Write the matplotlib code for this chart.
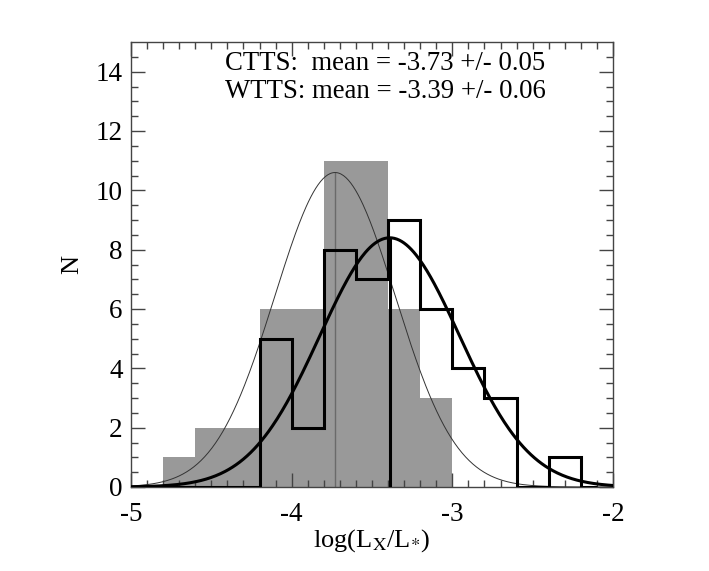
import numpy as np
import matplotlib
matplotlib.use("Agg")
import matplotlib.pyplot as plt

plt.rcParams['font.family'] = ['Liberation Serif', 'DejaVu Serif']
plt.rcParams['mathtext.fontset'] = 'stix'
plt.rcParams['axes.unicode_minus'] = False

# CTTS histogram (grey filled), bin edges and counts
ctts_edges = [-4.8, -4.6, -4.4, -4.2, -4.0, -3.8, -3.6, -3.4, -3.2, -3.0]
ctts_counts = [1, 2, 2, 6, 6, 11, 11, 6, 3]

# WTTS histogram (black outline)
wtts_edges = [-5.0, -4.8, -4.6, -4.4, -4.2, -4.0, -3.8, -3.6, -3.4, -3.2,
              -3.0, -2.8, -2.6, -2.4, -2.2, -2.1]
wtts_counts = [0, 0, 0, 0, 5, 2, 8, 7, 9, 6, 4, 3, 0, 1, 0]

# gaussian fits: mean, sigma, peak
ctts_mean, ctts_sig, ctts_peak = -3.73, 0.375, 10.6
wtts_mean, wtts_sig, wtts_peak = -3.39, 0.435, 8.4

fig = plt.figure(figsize=(7.09, 5.71), dpi=100)
ax = fig.add_axes([131/709, 84/571, 482/709, 445/571])

widths = np.diff(ctts_edges)
ax.bar(ctts_edges[:-1], ctts_counts, width=widths, align='edge',
       color='#999999', edgecolor='none', zorder=1)
ax.plot([ctts_mean, ctts_mean], [0, ctts_peak], color='#6a6a6a', lw=1.0, zorder=2)

xx = np.linspace(-5, -2, 400)
ax.plot(xx, ctts_peak*np.exp(-(xx-ctts_mean)**2/(2*ctts_sig**2)),
        color='#333333', lw=0.7, zorder=3)

ax.stairs(wtts_counts, wtts_edges, color='black', lw=2.2, zorder=4)
ax.plot(xx, wtts_peak*np.exp(-(xx-wtts_mean)**2/(2*wtts_sig**2)),
        color='black', lw=2.2, zorder=5)
ax.plot([wtts_mean, wtts_mean], [0, wtts_peak], color='black', lw=2.2, zorder=5)

ax.set_xlim(-5, -2)
ax.set_ylim(0, 15)
ax.set_xticks([-5, -4, -3, -2])
ax.set_yticks([0, 2, 4, 6, 8, 10, 12, 14])
ax.set_xticks(np.arange(-5, -2, 0.1), minor=True)
ax.set_yticks(np.arange(0, 15, 0.5), minor=True)

for s in ax.spines.values():
    s.set_color('#444444')
    s.set_linewidth(1.0)
ax.tick_params(which='both', direction='in', top=True, right=True,
               color='#444444', width=1.0, labelsize=19.5)
ax.tick_params(which='major', length=10)
ax.tick_params(which='minor', length=5)
ax.tick_params(axis='x', which='major', pad=11)
ax.tick_params(axis='y', which='major', pad=6)

ax.set_xlabel(r'log(L$_{\mathrm{X}}$/L$_{*}$)', fontsize=19, labelpad=0)
ax.set_ylabel('N', fontsize=19, labelpad=9)

ax.text(-4.415, 14.29, 'CTTS:  mean = -3.73 +/- 0.05', fontsize=19.3,
        ha='left', va='center')
ax.text(-4.415, 13.34, 'WTTS: mean = -3.39 +/- 0.06', fontsize=19.3,
        ha='left', va='center')

fig.savefig('out.png', dpi=100)
